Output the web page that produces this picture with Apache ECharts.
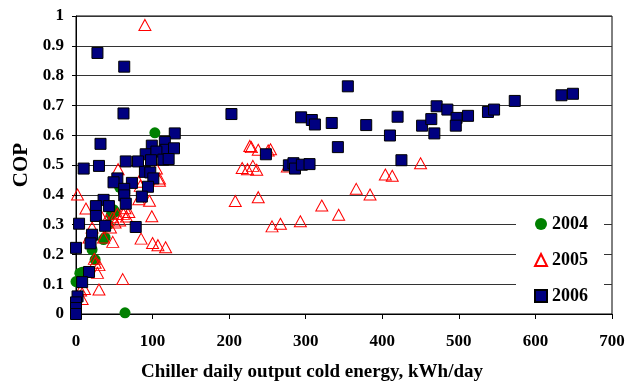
<!DOCTYPE html>
<html>
<head>
<meta charset="utf-8">
<script src="https://cdn.jsdelivr.net/npm/echarts@6/dist/echarts.min.js"></script>
<style>
  html, body { margin: 0; padding: 0; background: #fff; }
  #chart { width: 635px; height: 387px; }
</style>
</head>
<body>
<div id="chart"></div>
<script>
// [daily output kWh/day, COP]
var data2004 = [
  [103, 0.608], [64, 0.004], [0, 0.109], [3, 0.105], [5, 0.137], [8, 0.14],
  [21, 0.216], [25, 0.182], [36, 0.25], [38, 0.257], [42, 0.3], [46, 0.333],
  [49, 0.35], [51, 0.343], [57, 0.425]
];
var data2005 = [
  [90, 0.97], [55, 0.486], [105, 0.488], [109, 0.455], [2, 0.401], [13, 0.354],
  [84, 0.43], [82, 0.385], [96, 0.38], [99, 0.328], [54, 0.336], [62, 0.336],
  [66, 0.327], [57, 0.314], [51, 0.307], [48, 0.325], [40, 0.316], [33, 0.329],
  [21, 0.29], [17, 0.257], [36, 0.257], [48, 0.242], [85, 0.253], [100, 0.238],
  [107, 0.231], [117, 0.224], [24, 0.185], [25, 0.172], [30, 0.164], [28, 0.138],
  [61, 0.117], [30, 0.082], [11, 0.084], [6, 0.079], [8, 0.05], [64, 0.355],
  [69, 0.342], [82, 0.444], [109, 0.447], [45, 0.29],
  [227, 0.564], [229, 0.56], [238, 0.551], [251, 0.549], [254, 0.553], [217, 0.49],
  [224, 0.486], [231, 0.497], [236, 0.484], [208, 0.379], [238, 0.392], [256, 0.294],
  [267, 0.303], [293, 0.311], [321, 0.364], [343, 0.333], [366, 0.42], [384, 0.401],
  [404, 0.468], [413, 0.464], [450, 0.506], [276, 0.495]
];
var data2006 = [
  [28, 0.876], [63, 0.83], [62, 0.673], [32, 0.571], [129, 0.606], [99, 0.565],
  [116, 0.577], [117, 0.551], [128, 0.556], [91, 0.536], [105, 0.545], [10, 0.488],
  [30, 0.497], [65, 0.512], [81, 0.512], [98, 0.516], [114, 0.518], [121, 0.52],
  [90, 0.477], [97, 0.475], [101, 0.455], [54, 0.455], [49, 0.442], [73, 0.44],
  [94, 0.427], [63, 0.42], [63, 0.398], [86, 0.394], [65, 0.37], [36, 0.383],
  [26, 0.362], [43, 0.362], [26, 0.329], [4, 0.303], [38, 0.296], [78, 0.292],
  [21, 0.266], [19, 0.237], [0, 0.222], [17, 0.141], [8, 0.107], [2, 0.059],
  [0, 0.039], [0, 0.02], [0, 0.0],
  [203, 0.671], [355, 0.764], [294, 0.66], [308, 0.651], [312, 0.636], [334, 0.641],
  [379, 0.634], [342, 0.56], [248, 0.536], [278, 0.499], [284, 0.506], [286, 0.488],
  [295, 0.501], [305, 0.503], [410, 0.599], [420, 0.662], [425, 0.516], [452, 0.632],
  [464, 0.654], [471, 0.697], [468, 0.606], [485, 0.686], [497, 0.658], [496, 0.632],
  [512, 0.665], [538, 0.678], [546, 0.686], [573, 0.715], [634, 0.734], [649, 0.739]
];

var font = 'Liberation Serif';

var chart = echarts.init(document.getElementById('chart'));
chart.setOption({
  animation: false,
  grid: {
    left: 76, right: 23, top: 16, bottom: 65,
    show: true, borderColor: '#000', borderWidth: 1
  },
  xAxis: {
    type: 'value',
    min: 0, max: 700, interval: 100,
    name: 'Chiller daily output cold energy, kWh/day',
    nameLocation: 'middle',
    nameGap: 49,
    nameTextStyle: {
      fontFamily: font, fontWeight: 'bold', fontSize: 19, color: '#000',
      padding: [0, 64, 0, 0]
    },
    axisLine: { lineStyle: { color: '#000' } },
    axisTick: { show: true, length: 5, lineStyle: { color: '#000' } },
    axisLabel: { fontFamily: font, fontWeight: 'bold', fontSize: 17, color: '#000', margin: 19 },
    splitLine: { show: false }
  },
  yAxis: {
    type: 'value',
    min: 0, max: 1, interval: 0.1,
    name: 'COP',
    nameLocation: 'middle',
    nameGap: 31,
    nameTextStyle: { fontFamily: font, fontWeight: 'bold', fontSize: 21, color: '#000' },
    axisLine: { show: true, lineStyle: { color: '#000' } },
    axisTick: { show: true, length: 4, lineStyle: { color: '#000' } },
    axisLabel: { fontFamily: font, fontWeight: 'bold', fontSize: 17, color: '#000', margin: 12 },
    splitLine: { show: true, lineStyle: { color: '#333', width: 1 } }
  },
  legend: {
    orient: 'vertical',
    left: 516, top: 208,
    padding: [7, 16, 7, 18],
    itemWidth: 12, itemHeight: 12,
    itemGap: 18,
    backgroundColor: '#fff',
    textStyle: { fontFamily: font, fontWeight: 'bold', fontSize: 18, color: '#000' },
    data: ['2004', '2005', '2006']
  },
  series: [
    {
      name: '2004', type: 'scatter', symbol: 'circle', symbolSize: 11,
      itemStyle: { color: '#008000', opacity: 1 },
      data: data2004
    },
    {
      name: '2005', type: 'scatter', symbol: 'triangle', symbolSize: [12, 11],
      itemStyle: { color: 'transparent', borderColor: '#ff0000', borderWidth: 1, opacity: 1 },
      data: data2005
    },
    {
      name: '2006', type: 'scatter', symbol: 'rect', symbolSize: 11,
      itemStyle: { color: '#000080', borderColor: '#000', borderWidth: 1, opacity: 1 },
      data: data2006
    }
  ]
});
</script>
</body>
</html>
